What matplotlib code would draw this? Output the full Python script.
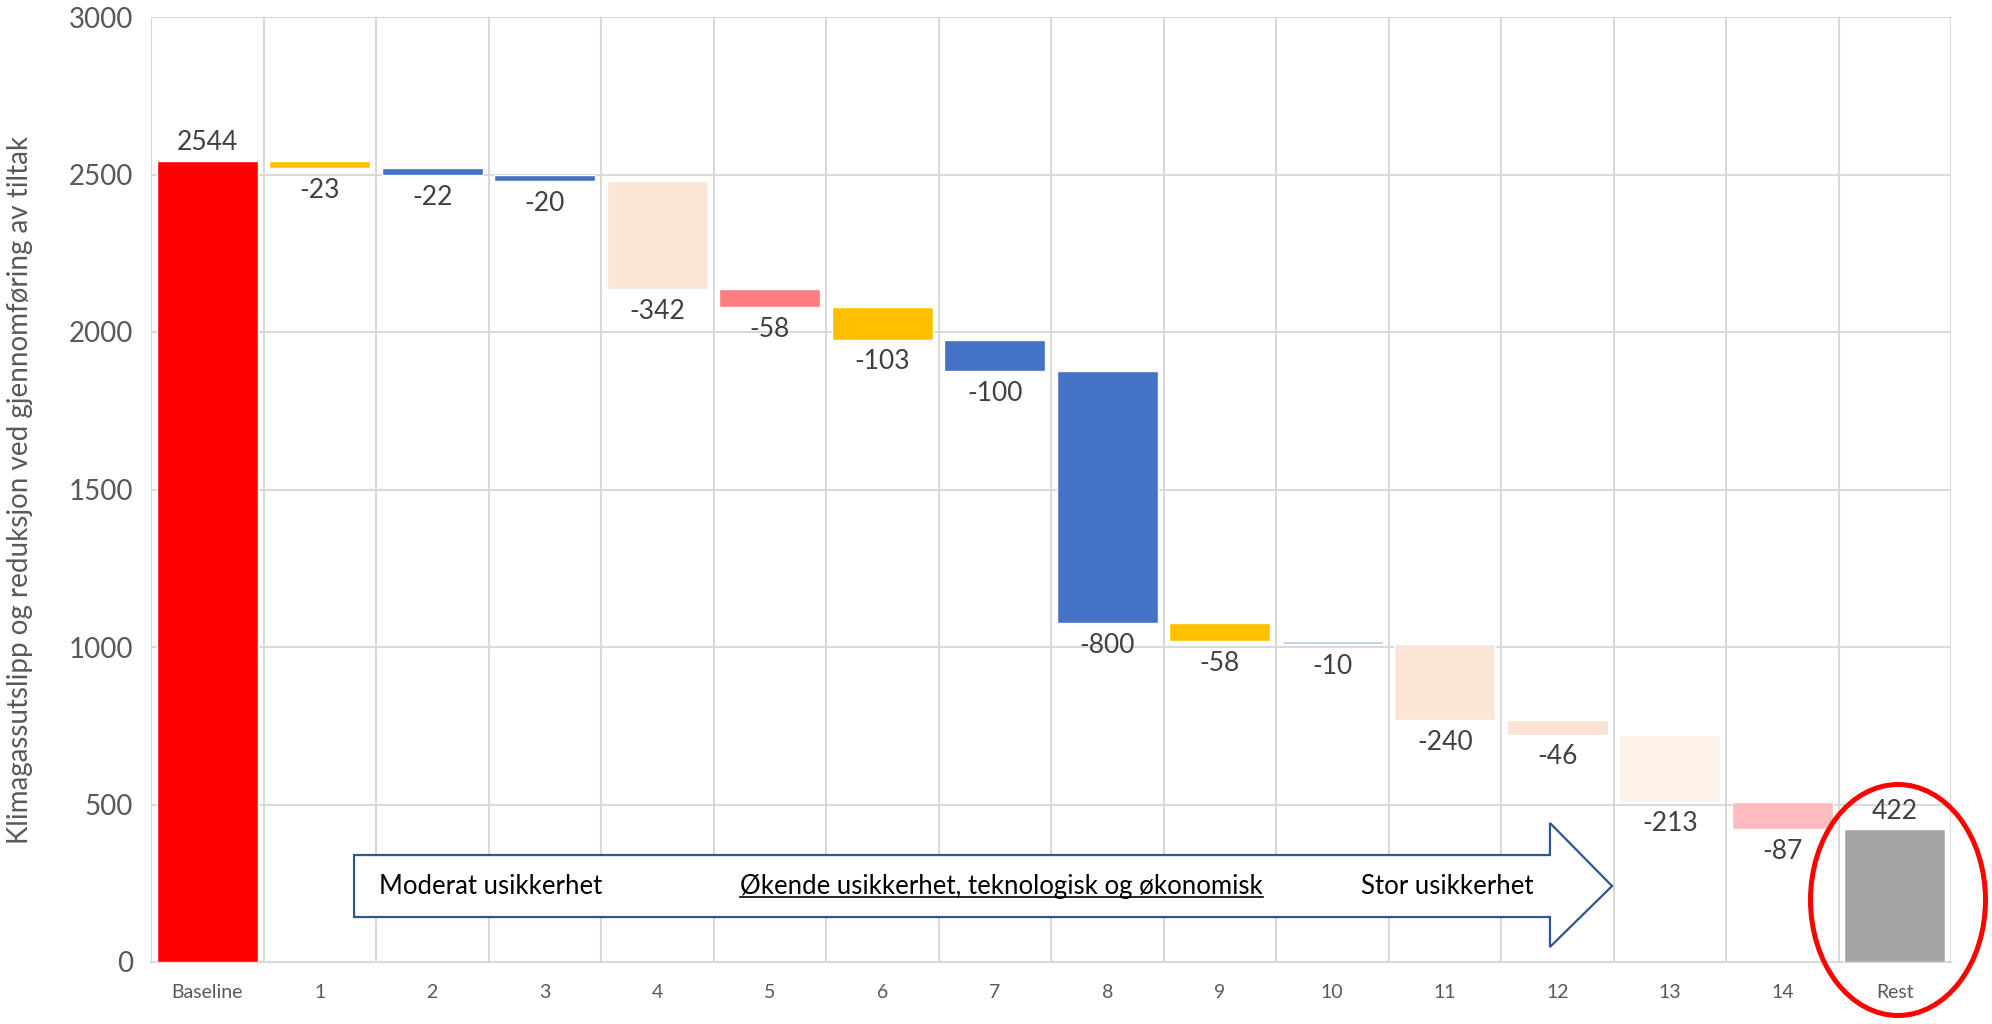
import numpy as np
import matplotlib
matplotlib.use("Agg")
import matplotlib.pyplot as plt
from matplotlib.patches import Polygon, Ellipse
from matplotlib.lines import Line2D

# ---- data ----
categories = ['Baseline', '1', '2', '3', '4', '5', '6', '7', '8', '9', '10',
              '11', '12', '13', '14', 'Rest']
baseline_value = 2544
changes = [-23, -22, -20, -342, -58, -103, -100, -800, -58, -10, -240, -46, -213, -87]
rest_value = 422
bar_colors = ['#FF0000', '#FFC000', '#4472C4', '#4472C4', '#FBE5D6', '#FF7C80',
              '#FFC000', '#4472C4', '#4472C4', '#FFC000', '#B4C7E7', '#FBE5D6',
              '#FBE3D4', '#FDF1E9', '#FFBBBF', '#A5A5A5']
y_ticks = [0, 500, 1000, 1500, 2000, 2500, 3000]
y_label = 'Klimagassutslipp og reduksjon ved gjennomføring av tiltak'
arrow_texts = ['Moderat usikkerhet', 'Økende usikkerhet, teknologisk og økonomisk',
               'Stor usikkerhet']

plt.rcParams['font.family'] = ['Lato', 'DejaVu Sans']

fig = plt.figure(figsize=(19.92, 10.24), dpi=100)
ax = fig.add_axes([151 / 1992, 62 / 1024, 1800 / 1992, 945 / 1024])

# waterfall geometry
running = baseline_value + np.cumsum(changes)
tops = np.concatenate([[baseline_value], running - np.array(changes), [rest_value]])
bottoms = np.concatenate([[0], running, [0]])
heights = tops - bottoms
x = np.arange(len(categories))

ax.bar(x, heights, bottom=bottoms, width=0.9, color=bar_colors,
       edgecolor='white', linewidth=1, zorder=3)

label_color = '#404040'
values = [baseline_value] + changes + [rest_value]
for i, v in enumerate(values):
    if v >= 0:
        ax.annotate(f'{v}', (x[i], tops[i]), xytext=(0, 13), textcoords='offset points',
                    ha='center', va='center', fontsize=19, color=label_color, zorder=5)
    else:
        ax.annotate(f'{v}', (x[i], bottoms[i]), xytext=(0, -16), textcoords='offset points',
                    ha='center', va='center', fontsize=19, color=label_color, zorder=5)

ax.set_xlim(-0.5, len(categories) - 0.5)
ax.set_ylim(0, 3000)
ax.set_yticks(y_ticks)
ax.set_xticks(x)
ax.set_xticklabels(categories)
ax.set_xticks(np.arange(-0.5, len(categories), 1), minor=True)

grid_c = '#D9D9D9'
ax.yaxis.grid(True, color=grid_c, linewidth=1.5, zorder=0)
ax.xaxis.grid(True, which='minor', color=grid_c, linewidth=1.5, zorder=0)
ax.xaxis.grid(False, which='major')
ax.set_axisbelow(True)
for s in ['top', 'left', 'right']:
    ax.spines[s].set_visible(False)
ax.spines['bottom'].set_color(grid_c)
ax.spines['bottom'].set_linewidth(1.5)

ax.tick_params(axis='both', which='both', length=0)
ax.tick_params(axis='y', labelsize=20, labelcolor='#595959', pad=13)
ax.tick_params(axis='x', labelsize=14, labelcolor='#595959', pad=16)

ax.set_ylabel(y_label, fontsize=20, color='#595959')
ax.yaxis.set_label_coords(-0.0656, 0.5)

# block arrow annotation (axes-fraction coordinates)
x0, xh, xt = 0.1128, 0.7772, 0.8117
yb_top, yb_bot, yh_top, yh_bot, ymid = 0.1132, 0.0476, 0.1471, 0.0159, 0.0804
arrow = Polygon([(x0, yb_bot), (xh, yb_bot), (xh, yh_bot), (xt, ymid),
                 (xh, yh_top), (xh, yb_top), (x0, yb_top)], closed=True,
                facecolor='white', edgecolor='#2F5597', linewidth=1.6,
                transform=ax.transAxes, zorder=6)
ax.add_patch(arrow)

txt_x = [0.1267, 0.3272, 0.6722]
texts = []
for tx, s in zip(txt_x, arrow_texts):
    t = ax.text(tx, ymid, s, transform=ax.transAxes, ha='left', va='center',
                fontsize=18.5, color='black', zorder=7)
    texts.append(t)

# underline the middle text
fig.canvas.draw()
bb = texts[1].get_window_extent(renderer=fig.canvas.get_renderer())
inv = fig.transFigure.inverted()
(ux0, uy), (ux1, _) = inv.transform([(bb.x0, bb.y0 + 2), (bb.x1, bb.y0 + 2)])
fig.add_artist(Line2D([ux0, ux1], [uy, uy], color='black', linewidth=1.2,
                      transform=fig.transFigure, zorder=8))

# red ellipse highlight around the Rest bar
ell = Ellipse((1898 / 1992, 1 - 900 / 1024), 175 / 1992, 231 / 1024,
              transform=fig.transFigure, fill=False, edgecolor='#FF0000',
              linewidth=3.6, zorder=10)
fig.add_artist(ell)

fig.savefig('out.png', dpi=100)
